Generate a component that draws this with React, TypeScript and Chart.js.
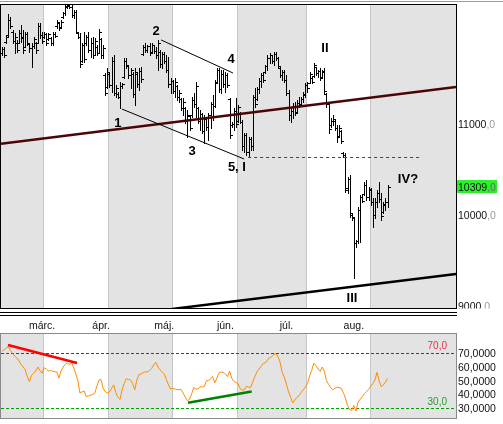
import React, { useEffect, useRef } from "react";
import { Chart, registerables } from "chart.js";

Chart.register(...registerables);

// ---------- data ----------
const SLOTS = 216;
const monthNames = ["márc.", "ápr.", "máj.", "jún.", "júl.", "aug."];
const monthStartIdx = [20, 51, 81, 112, 145, 175];
const monthLabelIdx = [19, 47, 77, 106, 135, 167];
const priceTickValues = [9000, 10000, 11000];
const lastPrice = 10309;
const rsiTickValues = [70, 60, 50, 40, 30];
const rsiUpper = 70;
const rsiLower = 30;

const highs = [
  11852, 11852, 11983, 12214, 12181, 12038, 12005, 11928, 12038, 12093,
  12038, 12016, 12016, 11895, 11895, 11961, 11906, 12115, 12115, 12016,
  12016, 12005, 12005, 11961, 12016, 12016, 12148, 12126, 12148, 12236,
  12313, 12340, 12340, 12330, 12258, 12258, 12016, 12005, 11895, 12016,
  11983, 12016, 11950, 11961, 11950, 11873, 12049, 11950, 11873, 11566,
  11621, 11566, 11742, 11764, 11434, 11357, 11467, 11456, 11731, 11731,
  11654, 11621, 11577, 11621, 11566, 11621, 11632, 11873, 11895, 11873,
  11895, 11895, 11873, 11852, 11928, 11819, 11797, 11797, 11764, 11742,
  11511, 11489, 11511, 11434, 11379, 11291, 11291, 11192, 11159, 11104,
  11302, 11346, 11467, 11192, 11159, 11126, 11104, 11082, 11126, 11247,
  11324, 11489, 11621, 11621, 11599, 11599, 11577, 11566, 11291, 11027,
  11181, 11291, 11214, 11137, 11049, 10906, 10906, 10863, 10863, 11324,
  11401, 11412, 11511, 11566, 11566, 11654, 11764, 11786, 11764, 11797,
  11797, 11742, 11632, 11599, 11599, 11544, 11379, 11192, 11236, 11247,
  11269, 11302, 11302, 11357, 11456, 11467, 11577, 11522, 11676, 11632,
  11599, 11621, 11599, 11621, 11346, 11247, 11071, 11104, 11049, 10994,
  10994, 10939, 10698, 10687, 10423, 10445, 10027, 9983, 9731, 10093,
  10225, 10225, 10368, 10390, 10313, 10302, 10192, 10192, 10280, 10368,
  10247, 10148, 10192, 10335,
];
const lows = [
  11764, 11742, 11895, 11961, 12060, 11895, 11786, 11797, 11895, 11906,
  11786, 11852, 11873, 11797, 11632, 11841, 11786, 11895, 11950, 11895,
  11950, 11873, 11928, 11873, 11873, 11961, 12060, 12038, 12060, 12170,
  12203, 12280, 12280, 12181, 12170, 12005, 11950, 11632, 11687, 11687,
  11873, 11797, 11742, 11731, 11764, 11764, 11786, 11731, 11731, 11324,
  11401, 11412, 11357, 11324, 11302, 11291, 11181, 11401, 11511, 11621,
  11511, 11401, 11302, 11214, 11412, 11379, 11467, 11764, 11797, 11797,
  11764, 11797, 11786, 11731, 11599, 11632, 11621, 11676, 11577, 11412,
  11346, 11346, 11302, 11269, 11247, 11159, 11104, 11016, 10863, 10939,
  11082, 11192, 11082, 11016, 10939, 10906, 10797, 10939, 10830, 10961,
  11049, 11192, 11456, 11357, 11346, 11412, 11357, 11412, 10852, 10972,
  10939, 10972, 11027, 11016, 10720, 10698, 10665, 10643, 10720, 10720,
  11192, 11269, 11346, 11412, 11467, 11566, 11599, 11676, 11676, 11654,
  11709, 11621, 11522, 11489, 11467, 11324, 11049, 11027, 11071, 11104,
  11137, 11192, 11214, 11247, 11302, 11357, 11456, 11456, 11522, 11544,
  11522, 11489, 11522, 11346, 11192, 10906, 10972, 10994, 10939, 10808,
  10863, 10797, 10643, 10258, 10247, 9983, 9950, 9313, 9654, 9698,
  9709, 10148, 10225, 10170, 10170, 10115, 9874, 9972, 10093, 10148,
  9950, 10027, 10060, 10093,
];
const opens = [
  11790, 11830, 11910, 11980, 12150, 12020, 11920, 11900, 11900, 12010,
  11960, 11850, 11990, 11880, 11840, 11860, 11900, 11900, 12080, 11980,
  11960, 11990, 11940, 11950, 11900, 11990, 12080, 12110, 12070, 12180,
  12220, 12300, 12300, 12290, 12200, 12240, 12010, 11960, 11700, 11870,
  11900, 11960, 11820, 11900, 11760, 11850, 11790, 11940, 11760, 11540,
  11410, 11560, 11430, 11700, 11350, 11340, 11300, 11420, 11520, 11700,
  11640, 11540, 11560, 11340, 11560, 11440, 11590, 11780, 11850, 11820,
  11860, 11800, 11870, 11810, 11760, 11800, 11660, 11770, 11700, 11600,
  11440, 11480, 11370, 11420, 11300, 11280, 11180, 11180, 11040, 11090,
  11100, 11270, 11220, 11180, 11040, 11110, 10930, 11060, 10970, 11100,
  11220, 11200, 11470, 11600, 11390, 11560, 11450, 11540, 11280, 10990,
  11010, 11150, 11040, 11120, 11030, 10760, 10880, 10700, 10840, 10760,
  11300, 11280, 11390, 11480, 11540, 11580, 11640, 11730, 11760, 11700,
  11780, 11730, 11620, 11540, 11580, 11490, 11350, 11100, 11150, 11200,
  11140, 11240, 11220, 11280, 11320, 11430, 11460, 11510, 11530, 11630,
  11570, 11590, 11520, 11590, 11330, 11220, 10990, 11040, 11040, 10960,
  10870, 10930, 10690, 10660, 10280, 10400, 10000, 9970, 9700, 9720,
  10060, 10200, 10240, 10340, 10200, 10280, 10150, 10000, 10150, 10250,
  10180, 10040, 10120, 10150,
];
const closes = [
  11830, 11760, 11960, 12150, 12080, 11920, 11960, 11820, 12010, 11950,
  11820, 11990, 11900, 11840, 11860, 11940, 11820, 12080, 11980, 11920,
  11990, 11890, 11990, 11900, 11990, 11970, 12130, 12060, 12130, 12220,
  12290, 12310, 12290, 12200, 12240, 12020, 11960, 11660, 11870, 11720,
  11960, 11820, 11900, 11760, 11920, 11790, 12020, 11760, 11840, 11350,
  11580, 11430, 11700, 11350, 11400, 11300, 11420, 11440, 11700, 11650,
  11540, 11600, 11340, 11580, 11440, 11590, 11500, 11850, 11820, 11860,
  11790, 11870, 11810, 11760, 11900, 11660, 11770, 11700, 11600, 11440,
  11480, 11370, 11470, 11300, 11350, 11180, 11250, 11040, 11100, 10960,
  11270, 11220, 11420, 11040, 11120, 10930, 11060, 10970, 11100, 11220,
  11080, 11460, 11600, 11390, 11560, 11450, 11540, 11430, 10880, 11010,
  11150, 11000, 11190, 11030, 10760, 10880, 10700, 10840, 10760, 11300,
  11220, 11390, 11480, 11540, 11490, 11640, 11730, 11760, 11700, 11780,
  11730, 11640, 11540, 11580, 11490, 11350, 11100, 11150, 11200, 11130,
  11240, 11210, 11280, 11330, 11430, 11400, 11550, 11470, 11650, 11570,
  11590, 11510, 11580, 11370, 11220, 10950, 11040, 11060, 10960, 10860,
  10960, 10820, 10660, 10300, 10400, 10030, 9980, 9700, 9720, 10060,
  10200, 10160, 10340, 10200, 10290, 10150, 10000, 10150, 10250, 10180,
  9990, 10130, 10150, 10309,
];
const rsi = [
  71.5, 72.5, 74, 74.5, 72, 70, 68, 66.5, 64.5, 62,
  60, 58, 53, 49.5, 54, 55.5, 57, 60, 57.5, 55.5,
  59.5, 58.5, 57, 57.5, 57, 56.5, 56.5, 52, 57, 60,
  62, 63, 61.5, 63.5, 59.5, 55, 50, 41, 42, 42.5,
  38.5, 39, 39.5, 40, 41, 46, 50.5, 51, 44.5, 42,
  41, 42, 44.5, 47, 41.5, 38, 36.5, 43.5, 48, 51.5,
  51, 50.5, 48, 43.5, 50.5, 54.5, 55, 56, 56.5, 56.5,
  57.5, 59, 61.5, 63.5, 60, 58, 56.5, 55, 51, 47,
  44, 44.5, 44, 43.5, 43.5, 43.8, 41, 38, 35.5, 36.5,
  40.5, 45, 44, 44, 45.7, 45.5, 45.8, 50, 50.3, 51.5,
  53, 48.5, 52, 55.8, 56.4, 56, 55, 53, 57, 52,
  49.5, 48.8, 48, 44.5, 43, 43.5, 46, 45.5, 45, 49,
  53, 56.5, 58.5, 60.5, 62.7, 63, 65, 66.8, 67.5, 69,
  69.8, 67.5, 63.5, 56, 52.5, 47.5, 42, 38, 34, 36,
  38, 39.3, 41.5, 43.5, 45.3, 48, 53.5, 57.5, 62.8, 61,
  58.5, 56.8, 60, 57, 50, 47.5, 45, 43.5, 44.5, 45.5,
  45, 44.5, 41.5, 37.5, 32, 29, 28.5, 32, 28, 34.5,
  36.5, 38.5, 40.5, 42, 43.8, 46, 48, 50.5, 56.2, 50,
  45.7, 47, 49, 51.8,
];

const waveLabels = ["1", "2", "3", "4", "5, I", "II", "III", "IV?"];
const waveLabelIdx = [55, 73.1, 90.2, 108.7, 111.5, 153.3, 166.1, 192.7];
const waveLabelValue = [11016, 12027, 10709, 11720, 10533, 11841, 9093, 10401];

type Seg = { x1: number; y1: number; x2: number; y2: number; color: string; width: number; dash?: number[] };

const priceLines: Seg[] = [
  { x1: -0.5, y1: 10787, x2: 215.5, y2: 11412, color: "#4a0606", width: 2.5 },
  { x1: 80.7, y1: 8973, x2: 215.5, y2: 9357, color: "#000000", width: 2.5 },
  { x1: 75.5, y1: 11929, x2: 109.6, y2: 11566, color: "#000000", width: 1 },
  { x1: 56.9, y1: 11170, x2: 114.9, y2: 10621, color: "#000000", width: 1 },
  { x1: 116.8, y1: 10643, x2: 198.4, y2: 10643, color: "#e00000", width: 1, dash: [3, 3] },
];
const rsiLines: Seg[] = [
  { x1: 2.8, y1: 76.0, x2: 35.6, y2: 62.9, color: "#ff0000", width: 2.5 },
  { x1: 88.3, y1: 34.1, x2: 118.5, y2: 42.2, color: "#008000", width: 2.5 },
];

const FONT = '"Liberation Sans", Arial, sans-serif';
const GRAY_BAND = "#e3e3e3";

// ---------- helpers ----------
function drawBands(ctx: any, xs: any, top: number, bottom: number) {
  const edges = [-0.5, ...monthStartIdx.map((i) => i - 0.5), SLOTS - 0.5];
  for (let i = 0; i < edges.length - 1; i++) {
    const x1 = Math.round(xs.getPixelForValue(edges[i]));
    const x2 = Math.round(xs.getPixelForValue(edges[i + 1]));
    if (i % 2 === 0) {
      ctx.fillStyle = GRAY_BAND;
      ctx.fillRect(x1, top, x2 - x1, bottom - top);
    }
  }
  ctx.fillStyle = "#c6c6c6";
  for (const s of monthStartIdx) {
    const px = Math.round(xs.getPixelForValue(s - 0.5));
    ctx.fillRect(px, top, 1, bottom - top);
  }
}

function drawSeg(ctx: any, xs: any, ys: any, s: Seg) {
  ctx.save();
  ctx.strokeStyle = s.color;
  ctx.lineWidth = s.width;
  ctx.setLineDash(s.dash || []);
  ctx.beginPath();
  let ya = ys.getPixelForValue(s.y1);
  let yb = ys.getPixelForValue(s.y2);
  if (s.dash) {
    ya = Math.round(ya) + 0.5;
    yb = Math.round(yb) + 0.5;
  }
  ctx.moveTo(xs.getPixelForValue(s.x1), ya);
  ctx.lineTo(xs.getPixelForValue(s.x2), yb);
  ctx.stroke();
  ctx.restore();
}

function drawNum(ctx: any, a: string, b: string, x: number, y: number, c1: string, c2: string) {
  ctx.fillStyle = c1;
  ctx.fillText(a, x, y);
  const w = ctx.measureText(a).width;
  ctx.fillStyle = c2;
  ctx.fillText(b, x + w, y);
}

function hLevel(ctx: any, ys: any, a: any, v: number, color: string) {
  const py = Math.round(ys.getPixelForValue(v)) + 0.5;
  ctx.save();
  ctx.strokeStyle = color;
  ctx.lineWidth = 1;
  ctx.setLineDash([3, 2]);
  ctx.beginPath();
  ctx.moveTo(a.left, py);
  ctx.lineTo(a.right, py);
  ctx.stroke();
  ctx.restore();
}

// ---------- plugins ----------
const pricePlugin = {
  id: "pricePlugin",
  beforeDatasetsDraw(chart: any) {
    const { ctx, chartArea: a } = chart;
    const xs = chart.scales.x;
    ctx.save();
    ctx.fillStyle = "#ffffff";
    ctx.fillRect(0, 0, chart.width, chart.height);
    ctx.fillStyle = "#9a9a9a";
    ctx.fillRect(0, 1, chart.width, 1);
    drawBands(ctx, xs, a.top, a.bottom);
    ctx.restore();
  },
  afterDatasetsDraw(chart: any) {
    const { ctx, chartArea: a } = chart;
    const xs = chart.scales.x;
    const ys = chart.scales.y;
    ctx.save();
    ctx.beginPath();
    ctx.rect(a.left, a.top + 1, a.right - a.left, a.bottom - a.top - 1);
    ctx.clip();
    ctx.fillStyle = "#000";
    for (let i = 0; i < highs.length; i++) {
      const px = Math.round(xs.getPixelForValue(i));
      const yh = Math.round(ys.getPixelForValue(highs[i]));
      const yl = Math.round(ys.getPixelForValue(lows[i]));
      ctx.fillRect(px, yh, 1, Math.max(1, yl - yh + 1));
      ctx.fillRect(px - 2, Math.round(ys.getPixelForValue(opens[i])), 2, 1);
      ctx.fillRect(px + 1, Math.round(ys.getPixelForValue(closes[i])), 2, 1);
    }
    for (const s of priceLines) drawSeg(ctx, xs, ys, s);
    ctx.font = `bold 13px ${FONT}`;
    ctx.fillStyle = "#000";
    ctx.textAlign = "center";
    ctx.textBaseline = "middle";
    waveLabels.forEach((t, i) => {
      ctx.fillText(t, xs.getPixelForValue(waveLabelIdx[i]), ys.getPixelForValue(waveLabelValue[i]));
    });
    ctx.restore();

    ctx.save();
    ctx.strokeStyle = "#000";
    ctx.lineWidth = 1;
    ctx.strokeRect(a.left - 0.5, a.top + 0.5, a.right - a.left + 1, a.bottom - a.top);
    ctx.beginPath();
    ctx.rect(a.right + 1, 0, chart.width - a.right, a.bottom + 0.5);
    ctx.clip();
    ctx.font = `10.5px ${FONT}`;
    ctx.textAlign = "left";
    ctx.textBaseline = "alphabetic";
    for (const v of priceTickValues) {
      drawNum(ctx, String(v), ",0", a.right + 2, ys.getPixelForValue(v) + 3.8, "#111", "#9a9a9a");
    }
    const py = ys.getPixelForValue(lastPrice);
    ctx.fillStyle = "#2cf02c";
    ctx.fillRect(a.right + 1, Math.round(py - 7), 40, 13);
    drawNum(ctx, String(lastPrice), ",0", a.right + 2, py + 3.8, "#111", "#6a6a6a");
    ctx.restore();
  },
};

const rsiPlugin = {
  id: "rsiPlugin",
  beforeDatasetsDraw(chart: any) {
    const { ctx, chartArea: a } = chart;
    const xs = chart.scales.x;
    const ys = chart.scales.y;
    ctx.save();
    ctx.fillStyle = "#ffffff";
    ctx.fillRect(0, 0, chart.width, chart.height);
    ctx.fillStyle = "#000";
    ctx.fillRect(0, 2, a.right + 1, 1);
    ctx.fillRect(0, 5, a.right + 1, 1);
    ctx.font = `10.5px ${FONT}`;
    ctx.textAlign = "center";
    ctx.textBaseline = "alphabetic";
    ctx.fillStyle = "#111";
    monthNames.forEach((m, i) => ctx.fillText(m, xs.getPixelForValue(monthLabelIdx[i]), 18.5));
    drawBands(ctx, xs, a.top, a.bottom);
    hLevel(ctx, ys, a, rsiUpper, "#e00000");
    hLevel(ctx, ys, a, rsiLower, "#00a000");
    ctx.restore();
  },
  afterDatasetsDraw(chart: any) {
    const { ctx, chartArea: a } = chart;
    const xs = chart.scales.x;
    const ys = chart.scales.y;
    ctx.save();
    ctx.beginPath();
    ctx.rect(a.left, a.top, a.right - a.left, a.bottom - a.top);
    ctx.clip();
    for (const s of rsiLines) drawSeg(ctx, xs, ys, s);
    ctx.font = `10px ${FONT}`;
    ctx.textAlign = "right";
    ctx.textBaseline = "alphabetic";
    ctx.fillStyle = "#e8304a";
    ctx.fillText(rsiUpper.toFixed(1).replace(".", ","), a.right - 9, ys.getPixelForValue(rsiUpper) - 4);
    ctx.fillStyle = "#2a9a3a";
    ctx.fillText(rsiLower.toFixed(1).replace(".", ","), a.right - 9, ys.getPixelForValue(rsiLower) - 3.5);
    ctx.restore();

    ctx.save();
    ctx.strokeStyle = "#8a8a8a";
    ctx.lineWidth = 1;
    ctx.strokeRect(a.left - 0.5, a.top - 0.5, a.right - a.left + 1, a.bottom - a.top + 1);
    ctx.font = `10.5px ${FONT}`;
    ctx.textAlign = "left";
    ctx.textBaseline = "alphabetic";
    ctx.fillStyle = "#111";
    for (const v of rsiTickValues) {
      ctx.fillText(v.toFixed(4).replace(".", ","), a.right + 2, ys.getPixelForValue(v) + 3.8);
    }
    ctx.restore();
  },
};

// ---------- component ----------
export default function App() {
  const priceRef = useRef<HTMLCanvasElement | null>(null);
  const rsiRef = useRef<HTMLCanvasElement | null>(null);

  useEffect(() => {
    const fitRight = (s: any) => {
      s.width = 47;
    };
    const priceChart = new Chart(priceRef.current as HTMLCanvasElement, {
      type: "line",
      data: {
        datasets: [
          {
            data: closes.map((c, i) => ({ x: i, y: c })),
            showLine: false,
            pointRadius: 0,
            borderWidth: 0,
          },
        ],
      },
      options: {
        animation: false,
        responsive: false,
        devicePixelRatio: 1,
        events: [],
        layout: { padding: { left: 1, top: 4, right: 0, bottom: 2 } },
        scales: {
          x: { type: "linear", min: -0.5, max: SLOTS - 0.5, display: false },
          y: {
            position: "right",
            min: 8983.5,
            max: 12324,
            grid: { display: false },
            border: { display: false },
            ticks: { display: false },
            afterFit: fitRight,
          },
        },
        plugins: { legend: { display: false }, tooltip: { enabled: false } },
      },
      plugins: [pricePlugin],
    } as any);

    const rsiChart = new Chart(rsiRef.current as HTMLCanvasElement, {
      type: "line",
      data: {
        datasets: [
          {
            data: rsi.map((v, i) => ({ x: i, y: v })),
            borderColor: "#ff8c00",
            borderWidth: 1,
            pointRadius: 0,
            tension: 0,
            fill: false,
          },
        ],
      },
      options: {
        animation: false,
        responsive: false,
        devicePixelRatio: 1,
        events: [],
        layout: { padding: { left: 1, top: 24, right: 0, bottom: 6 } },
        scales: {
          x: { type: "linear", min: -0.5, max: SLOTS - 0.5, display: false },
          y: {
            position: "right",
            min: 22.95,
            max: 84.0,
            grid: { display: false },
            border: { display: false },
            ticks: { display: false },
            afterFit: fitRight,
          },
        },
        plugins: { legend: { display: false }, tooltip: { enabled: false } },
      },
      plugins: [rsiPlugin],
    } as any);

    return () => {
      priceChart.destroy();
      rsiChart.destroy();
    };
  }, []);

  return (
    <div style={{ position: "fixed", left: 0, top: 0, width: 503, height: 424, background: "#fff" }}>
      <canvas ref={priceRef} width={503} height={310} style={{ position: "absolute", left: 0, top: 0 }} />
      <canvas ref={rsiRef} width={503} height={114} style={{ position: "absolute", left: 0, top: 310 }} />
    </div>
  );
}
